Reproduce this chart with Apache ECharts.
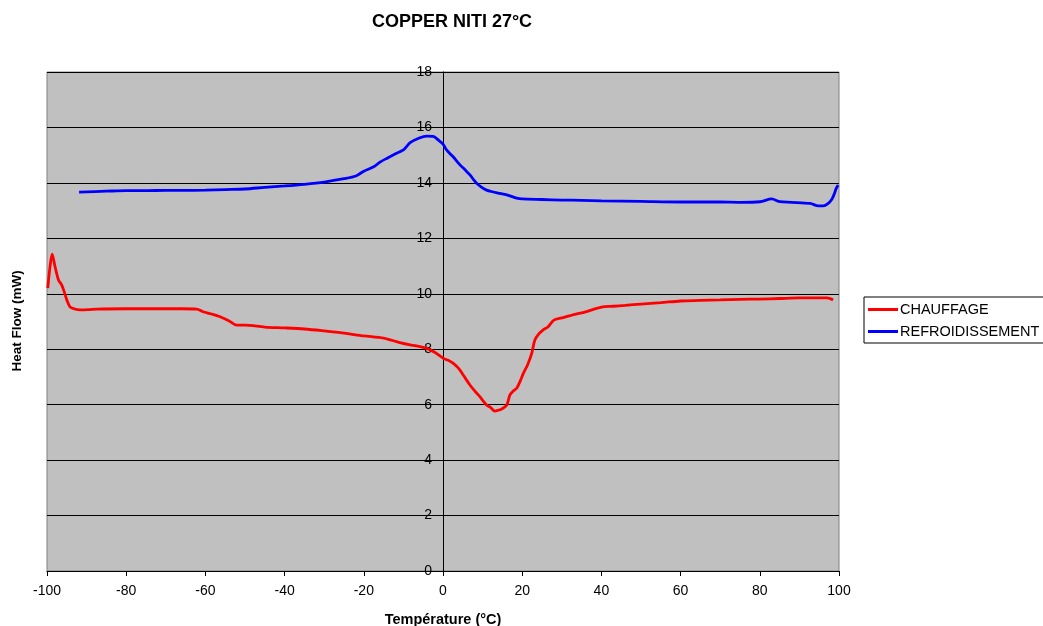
<!DOCTYPE html>
<html>
<head>
<meta charset="utf-8">
<script src="https://cdn.jsdelivr.net/npm/echarts@6/dist/echarts.min.js"></script>
<style>html,body{margin:0;padding:0;background:#fff}#c{width:1043px;height:626px}</style>
</head>
<body>
<div id="c"></div>
<script>
const xTicks = [-100,-80,-60,-40,-20,0,20,40,60,80,100];
const yTicks = [0,2,4,6,8,10,12,14,16,18];

const heatX = [-99.8,-99.3,-98.7,-98.0,-97.1,-96.3,-95.6,-95.0,-94.2,-93.0,-91.7,-89.5,-87.4,-80,-70,-66,-62.2,-60.6,-58.5,-56.3,-54,-52.1,-50,-45,-40,-35,-30,-25,-20,-15,-10.9,-8,-6,-4.1,-2,0.1,1.3,2.6,4,5.1,6.8,8,9.3,11.0,12,13.1,14.0,14.8,16.1,16.9,17.8,18.6,19.5,20.3,21.4,22.4,23.2,24.2,25.3,26.5,28,30,33,36,40,43,46,50,55,60,65,70,75,80,85,90,95,97,98.5];
const heatY = [10.2,10.9,11.43,11.0,10.5,10.32,10.05,9.78,9.53,9.45,9.42,9.43,9.45,9.46,9.46,9.46,9.45,9.35,9.27,9.17,9.02,8.87,8.87,8.8,8.77,8.73,8.66,8.58,8.48,8.4,8.24,8.15,8.1,8.03,7.88,7.67,7.6,7.49,7.3,7.07,6.71,6.5,6.29,5.99,5.9,5.77,5.8,5.84,5.99,6.35,6.5,6.59,6.85,7.13,7.45,7.85,8.33,8.55,8.7,8.8,9.05,9.13,9.25,9.35,9.52,9.55,9.58,9.63,9.68,9.74,9.76,9.78,9.8,9.81,9.83,9.85,9.85,9.85,9.78];

const coolX = [-91.9,-85,-80,-75,-70,-65,-60,-55,-50,-45,-40,-35,-30,-25,-22,-20,-17.5,-15.9,-14,-12,-10,-8.3,-6,-4.1,-2.5,-1.2,0,0.9,2.5,4.3,5.5,6.8,7.7,8.5,9.7,11.0,12.5,14.4,16.5,18.6,20,25,30,35,40,50,60,70,75,80.05,83.0,85.1,88,92.7,94.8,96.0,97.2,98.2,98.8,99.3,99.8];
const coolY = [13.67,13.7,13.72,13.72,13.73,13.73,13.74,13.76,13.78,13.84,13.89,13.95,14.03,14.15,14.25,14.42,14.58,14.75,14.9,15.05,15.19,15.45,15.62,15.69,15.68,15.55,15.4,15.19,14.95,14.65,14.48,14.29,14.12,13.99,13.85,13.74,13.68,13.62,13.55,13.45,13.42,13.4,13.38,13.37,13.35,13.33,13.31,13.31,13.3,13.32,13.42,13.32,13.3,13.26,13.17,13.17,13.25,13.41,13.6,13.8,13.92];

const heat = heatX.map((x,i)=>[x,heatY[i]]);
const cool = coolX.map((x,i)=>[x,coolY[i]]);

const font = 'Liberation Sans, Arial, sans-serif';
const chart = echarts.init(document.getElementById('c'));
chart.setOption({
  animation:false,
  backgroundColor:'#fff',
  textStyle:{fontFamily:font},
  title:{text:'COPPER NITI 27°C',left:447,top:8,textAlign:'center',
    textStyle:{fontSize:18,fontWeight:'bold',color:'#000',fontFamily:font}},
  grid:{left:47,right:204,top:72,bottom:55,outerBoundsMode:'none',containLabel:false,
    show:true,backgroundColor:'#C0C0C0',borderColor:'#808080',borderWidth:1},
  legend:{orient:'vertical',left:864,top:297,itemGap:7,padding:[5,6,4,4],
    borderColor:'#000',borderWidth:1,itemWidth:30,itemHeight:3,
    icon:'rect',
    textStyle:{fontSize:14.5,color:'#000',fontFamily:font,padding:[0,0,0,-3]},
    data:['CHAUFFAGE','REFROIDISSEMENT']},
  xAxis:{type:'value',min:-100,max:100,interval:20,
    name:'Température (°C)',nameLocation:'middle',nameGap:41,
    nameTextStyle:{fontSize:14.5,fontWeight:'bold',color:'#000',fontFamily:font},
    axisLine:{onZero:false,lineStyle:{color:'#000'}},
    axisTick:{show:true,length:5,lineStyle:{color:'#000'}},
    axisLabel:{fontSize:14,color:'#000',margin:13,
      formatter:v=>xTicks.includes(v)?String(v):''},
    splitLine:{show:false}},
  yAxis:{type:'value',min:0,max:18,interval:2,position:'left',offset:-396,
    axisLine:{onZero:false,lineStyle:{color:'#000'}},
    axisTick:{show:true,length:5,lineStyle:{color:'#000'}},
    axisLabel:{fontSize:14,color:'#000',margin:11,
      formatter:v=>yTicks.includes(v)?String(v):''},
    splitLine:{show:true,lineStyle:{color:'#000',width:1}}},
  graphic:[{type:'text',x:17,y:321,rotation:Math.PI/2,
    style:{text:'Heat Flow (mW)',font:'bold 13.5px '+font,fill:'#000',align:'center',verticalAlign:'middle'}}],
  series:[
    {name:'CHAUFFAGE',type:'line',data:heat,showSymbol:false,smooth:0.3,
      lineStyle:{color:'#FF0000',width:2.8},itemStyle:{color:'#FF0000'}},
    {name:'REFROIDISSEMENT',type:'line',data:cool,showSymbol:false,smooth:0.3,
      lineStyle:{color:'#0000FF',width:2.8},itemStyle:{color:'#0000FF'}}
  ]
});
</script>
</body>
</html>
